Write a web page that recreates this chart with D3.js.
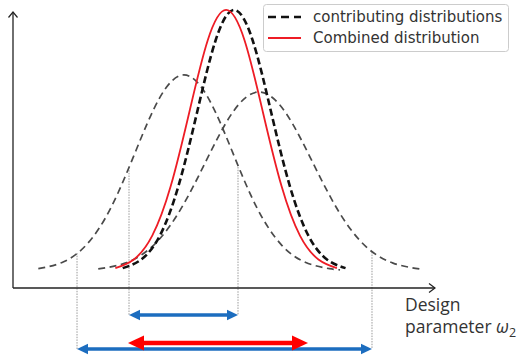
<!DOCTYPE html>
<html>
<head>
<meta charset="utf-8">
<script src="https://cdn.jsdelivr.net/npm/d3@7"></script>
<style>
  html, body { margin: 0; padding: 0; background: #fff; }
  svg { display: block; }
</style>
</head>
<body>
<svg id="chart" width="522" height="356"></svg>
<script>
// ---------- data (x: design parameter units 0-100, y: density units 0-100) ----------
const leftWideX  = [6.0, 11.75, 17.5, 23.25, 29.0, 34.75, 40.5, 46.25, 52.0, 57.75, 63.5, 69.25, 75.0, 77.5];
const leftWideY  = [6.9, 9.2, 15.6, 28.8, 48.6, 67.9, 76.1, 67.9, 48.6, 28.8, 15.6, 9.2, 6.9, 6.5];

const rightWideX = [20.2, 26.55, 32.9, 39.25, 45.6, 51.95, 58.3, 64.65, 71.0, 77.35, 83.7, 90.05, 96.4];
const rightWideY = [6.8, 8.9, 14.7, 26.9, 44.9, 62.5, 70.0, 62.5, 44.9, 26.9, 14.7, 8.9, 6.8];

const narrowX    = [26.0, 30.4, 34.8, 39.2, 43.6, 48.0, 52.4, 56.8, 61.2, 65.6, 70.0, 74.4, 78.8];
const narrowY    = [7.1, 10.2, 18.7, 36.4, 62.6, 88.4, 99.3, 88.4, 62.6, 36.4, 18.7, 10.2, 7.1];

const combinedX  = [24.25, 28.63, 33.0, 37.38, 41.75, 46.13, 50.5, 54.88, 59.25, 63.63, 68.0, 72.38, 76.75];
const combinedY  = [7.1, 10.2, 18.7, 36.4, 62.6, 88.4, 99.3, 88.4, 62.6, 36.4, 18.7, 10.2, 7.1];

// vertical guide lines: x position and the curve height where they start
const guideX   = [15.17, 27.49, 53.32, 85.07];
const guideTop = [12.5, 42.1, 43.2, 12.9];
const guideRow = [2, 1, 1, 2];

// range arrows
const rangeStart = [27.49, 15.17, 27.25];
const rangeEnd   = [53.32, 85.07, 69.9];
const rangeRow   = [1, 2, 2];
const rangeKind  = ["blue", "blue", "red"];

const legendLabels = ["contributing distributions", "Combined distribution"];
const xLabelLines  = ["Design", "parameter "];

// ---------- layout ----------
const svg = d3.select("#chart");
const x = d3.scaleLinear().domain([0, 100]).range([13, 435]);
const y = d3.scaleLinear().domain([0, 100]).range([288, 8]);
const rowY = { 1: 315, 2: 349 };
const rowOffset = { blue: 0, red: -6 };

const line = d3.line()
  .x(d => x(d[0]))
  .y(d => y(d[1]))
  .curve(d3.curveNatural);

const zip = (a, b) => a.map((v, i) => [v, b[i]]);

// guides
svg.append("g").selectAll("line")
  .data(guideX)
  .join("line")
  .attr("x1", d => x(d)).attr("x2", d => x(d))
  .attr("y1", (d, i) => y(guideTop[i]))
  .attr("y2", (d, i) => rowY[guideRow[i]])
  .attr("stroke", "#808080")
  .attr("stroke-width", 0.8)
  .attr("stroke-dasharray", "1.5,1.2");

// axes
const axisColor = "#222";
svg.append("line")
  .attr("x1", x(0)).attr("x2", x(0)).attr("y1", y(0)).attr("y2", 12)
  .attr("stroke", axisColor).attr("stroke-width", 1.3);
svg.append("path")
  .attr("d", `M${x(0) - 4.5},${17.5} L${x(0)},${12} L${x(0) + 4.5},${17.5}`)
  .attr("fill", "none").attr("stroke", axisColor).attr("stroke-width", 1.2);
svg.append("line")
  .attr("x1", x(0)).attr("x2", x(100)).attr("y1", y(0)).attr("y2", y(0))
  .attr("stroke", axisColor).attr("stroke-width", 1.3);
svg.append("path")
  .attr("d", `M${x(100) - 6},${y(0) - 4.5} L${x(100)},${y(0)} L${x(100) - 6},${y(0) + 4.5}`)
  .attr("fill", "none").attr("stroke", axisColor).attr("stroke-width", 1.2);

// curves
const curves = [
  { data: zip(leftWideX, leftWideY),   stroke: "#4a4a4a", width: 1.7, dash: "7,4.5" },
  { data: zip(rightWideX, rightWideY), stroke: "#4a4a4a", width: 1.7, dash: "7,4.5" },
  { data: zip(narrowX, narrowY),       stroke: "#111111", width: 2.6, dash: "7,3.5" },
  { data: zip(combinedX, combinedY),   stroke: "#ee1c25", width: 1.8, dash: null }
];
svg.append("g").selectAll("path")
  .data(curves)
  .join("path")
  .attr("d", d => line(d.data))
  .attr("fill", "none")
  .attr("stroke", d => d.stroke)
  .attr("stroke-width", d => d.width)
  .attr("stroke-dasharray", d => d.dash)
  .attr("stroke-linecap", "butt");

// range arrows
const arrowStyle = {
  blue: { color: "#1c6dbf", width: 3.6, headLen: 11, headHalf: 5.2 },
  red:  { color: "#ff0000", width: 4.6, headLen: 16, headHalf: 7.5 }
};
const order = d3.range(rangeStart.length).sort((a, b) => (rangeKind[a] === "red") - (rangeKind[b] === "red"));
const ag = svg.append("g");
order.forEach(i => {
  const s = arrowStyle[rangeKind[i]];
  const x1 = x(rangeStart[i]), x2 = x(rangeEnd[i]);
  const yy = rowY[rangeRow[i]] + rowOffset[rangeKind[i]];
  ag.append("line")
    .attr("x1", x1 + s.headLen - 1).attr("x2", x2 - s.headLen + 1)
    .attr("y1", yy).attr("y2", yy)
    .attr("stroke", s.color).attr("stroke-width", s.width);
  ag.append("path")
    .attr("d", `M${x1},${yy} L${x1 + s.headLen},${yy - s.headHalf} L${x1 + s.headLen},${yy + s.headHalf} Z`)
    .attr("fill", s.color);
  ag.append("path")
    .attr("d", `M${x2},${yy} L${x2 - s.headLen},${yy - s.headHalf} L${x2 - s.headLen},${yy + s.headHalf} Z`)
    .attr("fill", s.color);
});

// x label
const lbl = svg.append("text")
  .attr("font-family", "'Open Sans', sans-serif")
  .attr("font-size", 17.5)
  .attr("fill", "#333");
lbl.append("tspan").attr("x", 405).attr("y", 311).text(xLabelLines[0]);
lbl.append("tspan").attr("x", 405).attr("y", 333).text(xLabelLines[1]);
lbl.append("tspan").attr("font-style", "italic").text("ω");
lbl.append("tspan").attr("font-size", 12.5).attr("dy", 4).text("2");

// legend
const lg = svg.append("g");
lg.append("rect")
  .attr("x", 263.5).attr("y", 4.5).attr("width", 245).attr("height", 47)
  .attr("rx", 3).attr("fill", "#fff").attr("fill-opacity", 0.9)
  .attr("stroke", "#cccccc").attr("stroke-width", 1);
const legendItems = [
  { label: legendLabels[0], stroke: "#111", width: 2.6, dash: "8,5", y: 17 },
  { label: legendLabels[1], stroke: "#ee1c25", width: 1.8, dash: null, y: 38 }
];
legendItems.forEach(it => {
  lg.append("line")
    .attr("x1", 268).attr("x2", 301).attr("y1", it.y).attr("y2", it.y)
    .attr("stroke", it.stroke).attr("stroke-width", it.width)
    .attr("stroke-dasharray", it.dash);
  lg.append("text")
    .attr("x", 313).attr("y", it.y + 5)
    .attr("font-family", "'DejaVu Sans', sans-serif")
    .attr("font-size", 15)
    .attr("fill", "#333")
    .text(it.label);
});
</script>
</body>
</html>
